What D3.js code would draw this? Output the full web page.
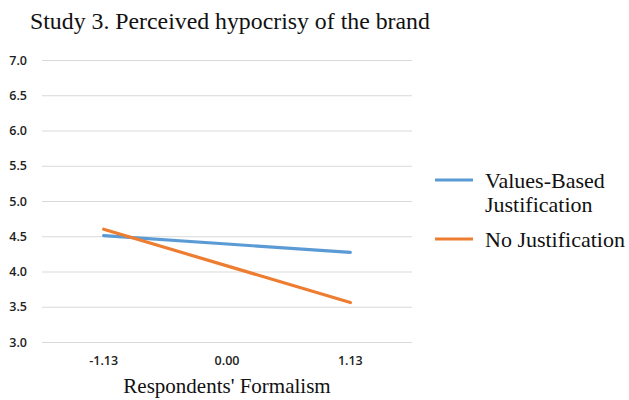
<!DOCTYPE html>
<html>
<head>
<meta charset="utf-8">
<script src="https://cdn.jsdelivr.net/npm/d3@7"></script>
<style>
  html, body { margin: 0; padding: 0; background: #fff; }
  svg { display: block; }
</style>
</head>
<body>
<svg id="chart" width="629" height="400"></svg>
<script>
// Moderator levels (respondents' formalism, mean ± 1 SD)
const categories = ["-1.13", "0.00", "1.13"];
// Perceived hypocrisy by justification condition
const valuesBased = [4.51, 4.39, 4.27];
const noJustification = [4.60, 4.08, 3.56];
const seriesNames = ["Values-Based Justification", "No Justification"];
const yTicks = [3.0, 3.5, 4.0, 4.5, 5.0, 5.5, 6.0, 6.5, 7.0];

const svg = d3.select("#chart");
const plot = { left: 42, right: 412, top: 60, bottom: 342 };

const x = d3.scaleBand().domain(categories).range([plot.left, plot.right]);
const y = d3.scaleLinear().domain([3, 7]).range([plot.bottom, plot.top]);

const serif = "'Liberation Serif', 'Times New Roman', serif";
const sans = "'Open Sans', 'Liberation Sans', sans-serif";

// Title
svg.append("text")
  .attr("x", 30).attr("y", 29)
  .attr("font-family", serif)
  .attr("font-size", 23.8)
  .attr("fill", "#111")
  .text("Study 3. Perceived hypocrisy of the brand");

// Horizontal gridlines + y labels
const yAxis = d3.axisLeft(y).tickValues(yTicks).tickFormat(d3.format(".1f"))
  .tickSize(-(plot.right - plot.left)).tickPadding(15);
const gy = svg.append("g").attr("transform", `translate(${plot.left},0)`).call(yAxis);
gy.select(".domain").remove();
gy.selectAll(".tick line").attr("stroke", "#d9d9d9").attr("stroke-width", 1.2);
gy.selectAll(".tick text")
  .attr("font-family", sans)
  .attr("font-weight", 600)
  .attr("font-size", 12.5)
  .attr("fill", "#222");

// X labels
const xAxis = d3.axisBottom(x).tickSize(0).tickPadding(14);
const gx = svg.append("g").attr("transform", `translate(0,${plot.bottom})`).call(xAxis);
gx.select(".domain").remove();
gx.selectAll(".tick text")
  .attr("font-family", sans)
  .attr("font-weight", 600)
  .attr("font-size", 12.5)
  .attr("fill", "#222");

// X axis title
svg.append("text")
  .attr("x", 227).attr("y", 393)
  .attr("text-anchor", "middle")
  .attr("font-family", serif)
  .attr("font-size", 21)
  .attr("fill", "#111")
  .text("Respondents' Formalism");

// Lines
const colors = ["#5B9BD5", "#ED7D31"];
const data = [valuesBased, noJustification];
const line = d3.line()
  .x((d, i) => x(categories[i]) + x.bandwidth() / 2)
  .y(d => y(d));
data.forEach((s, k) => {
  svg.append("path")
    .datum(s)
    .attr("d", line)
    .attr("fill", "none")
    .attr("stroke", colors[k])
    .attr("stroke-width", 3.2)
    .attr("stroke-linecap", "round");
});

// Legend
const legend = svg.append("g").attr("font-family", serif)
  .attr("font-size", 22).attr("fill", "#111");
const legendItems = [
  { lines: ["Values-Based", "Justification"], y: 180 },
  { lines: ["No Justification"], y: 239 }
];
legendItems.forEach((it, k) => {
  legend.append("line")
    .attr("x1", 435).attr("x2", 473)
    .attr("y1", it.y).attr("y2", it.y)
    .attr("stroke", colors[k]).attr("stroke-width", 3.2);
  const t = legend.append("text").attr("x", 485).attr("y", it.y + 8);
  it.lines.forEach((ln, j) => {
    t.append("tspan").attr("x", 485).attr("dy", j === 0 ? 0 : 24).text(ln);
  });
});
</script>
</body>
</html>
